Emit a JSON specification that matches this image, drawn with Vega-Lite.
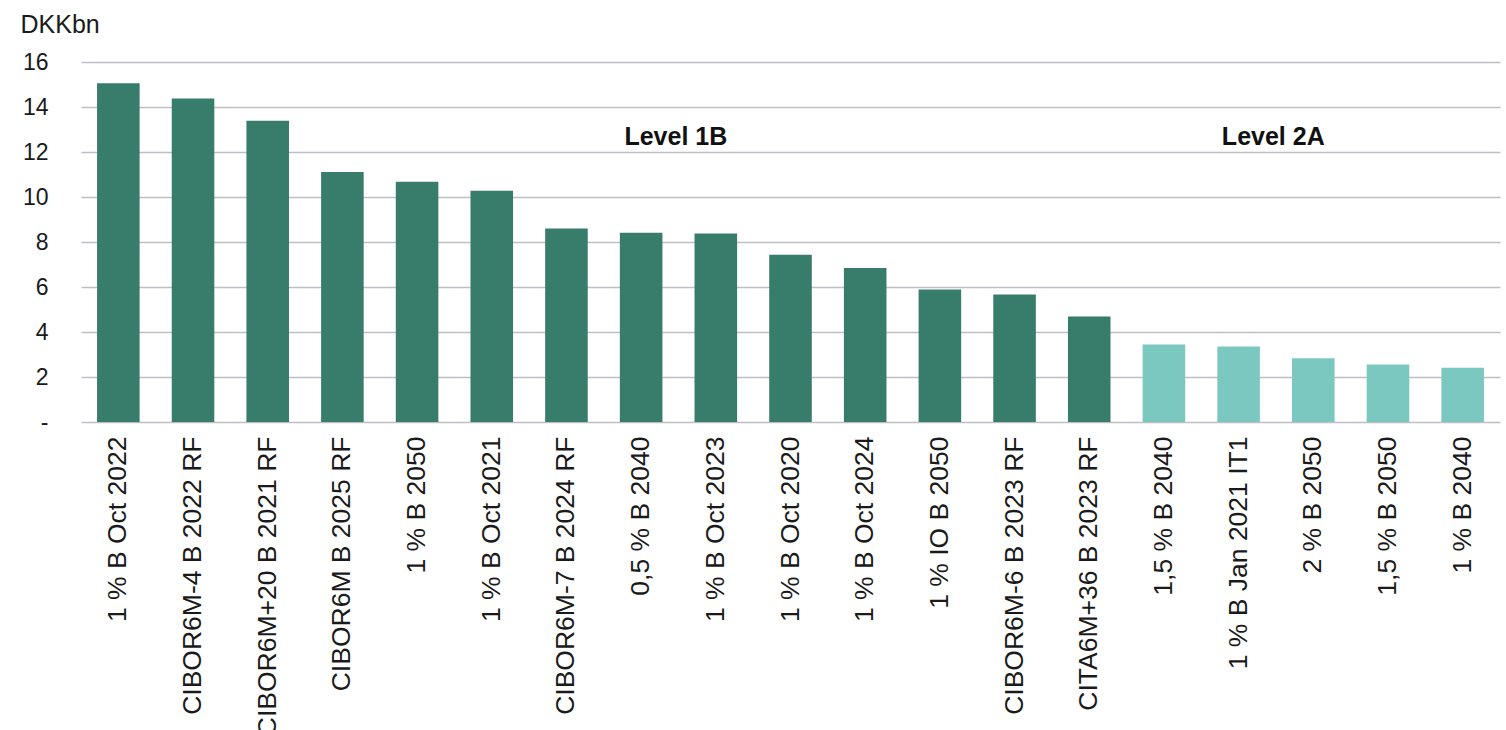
{
  "$schema": "https://vega.github.io/schema/vega-lite/v6.json",
  "width": 1419,
  "height": 360,
  "autosize": "none",
  "padding": {"left": 81, "top": 62, "right": 6, "bottom": 308},
  "background": "white",
  "config": {
    "view": {"stroke": null},
    "font": "Liberation Sans"
  },
  "datasets": {
    "bars": [
      {"bond": "1 % B Oct 2022", "value": 15.06, "level": "Level 1B"},
      {"bond": "CIBOR6M-4 B 2022 RF", "value": 14.38, "level": "Level 1B"},
      {"bond": "CIBOR6M+20 B 2021 RF", "value": 13.39, "level": "Level 1B"},
      {"bond": "CIBOR6M B 2025 RF", "value": 11.11, "level": "Level 1B"},
      {"bond": "1 % B 2050", "value": 10.68, "level": "Level 1B"},
      {"bond": "1 % B Oct 2021", "value": 10.28, "level": "Level 1B"},
      {"bond": "CIBOR6M-7 B 2024 RF", "value": 8.6, "level": "Level 1B"},
      {"bond": "0,5 % B 2040", "value": 8.41, "level": "Level 1B"},
      {"bond": "1 % B Oct 2023", "value": 8.38, "level": "Level 1B"},
      {"bond": "1 % B Oct 2020", "value": 7.43, "level": "Level 1B"},
      {"bond": "1 % B Oct 2024", "value": 6.85, "level": "Level 1B"},
      {"bond": "1 % IO B 2050", "value": 5.89, "level": "Level 1B"},
      {"bond": "CIBOR6M-6 B 2023 RF", "value": 5.67, "level": "Level 1B"},
      {"bond": "CITA6M+36 B 2023 RF", "value": 4.69, "level": "Level 1B"},
      {"bond": "1,5 % B 2040", "value": 3.45, "level": "Level 2A"},
      {"bond": "1 % B Jan 2021 IT1", "value": 3.36, "level": "Level 2A"},
      {"bond": "2 % B 2050", "value": 2.83, "level": "Level 2A"},
      {"bond": "1,5 % B 2050", "value": 2.56, "level": "Level 2A"},
      {"bond": "1 % B 2040", "value": 2.41, "level": "Level 2A"}
    ],
    "notes": [
      {"bond": "1 % B Oct 2023", "value": 12.65, "label": "Level 1B"},
      {"bond": "2 % B 2050", "value": 12.65, "label": "Level 2A"}
    ]
  },
  "layer": [
    {
      "data": {"name": "bars"},
      "mark": {"type": "bar"},
      "encoding": {
        "x": {
          "field": "bond",
          "type": "nominal",
          "sort": null,
          "scale": {"paddingInner": 0.43, "paddingOuter": 0.215},
          "axis": {
            "title": null,
            "labelAngle": -90,
            "labelFontSize": 26.5,
            "labelColor": "#1a1a1a",
            "labelPadding": 14,
            "labelLimit": 0,
            "ticks": false,
            "domain": false
          }
        },
        "y": {
          "field": "value",
          "type": "quantitative",
          "scale": {"domain": [0, 16], "nice": false},
          "axis": {
            "title": "DKKbn",
            "titleAngle": 0,
            "titleAlign": "left",
            "titleBaseline": "alphabetic",
            "titleX": -61,
            "titleY": -30,
            "titleFontSize": 25,
            "titleFontWeight": "normal",
            "titleColor": "#1a1a1a",
            "values": [0, 2, 4, 6, 8, 10, 12, 14, 16],
            "labelExpr": "datum.value == 0 ? '-' : datum.label",
            "labelFontSize": 23,
            "labelColor": "#1a1a1a",
            "labelPadding": 33,
            "ticks": false,
            "domain": false,
            "grid": true,
            "gridColor": "#BEBEC6",
            "gridWidth": 1.5
          }
        },
        "color": {
          "field": "level",
          "type": "nominal",
          "scale": {"domain": ["Level 1B", "Level 2A"], "range": ["#387D6B", "#7BC8C0"]},
          "legend": null
        }
      }
    },
    {
      "data": {"name": "notes"},
      "mark": {"type": "text", "fontSize": 25, "fontWeight": "bold", "color": "#111111", "dx": -40, "baseline": "middle", "align": "center"},
      "encoding": {
        "x": {"field": "bond", "type": "nominal", "sort": null},
        "y": {"field": "value", "type": "quantitative"},
        "text": {"field": "label"}
      }
    }
  ]
}
